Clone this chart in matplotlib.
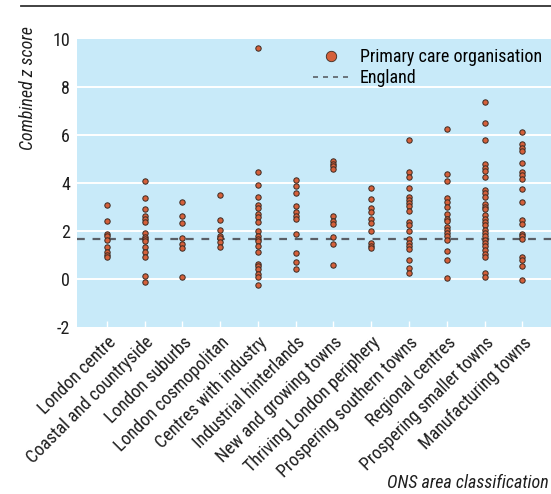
import matplotlib
matplotlib.use("Agg")
import matplotlib.pyplot as plt
from matplotlib.lines import Line2D
from matplotlib import font_manager as fm

_avail = set(f.name for f in fm.fontManager.ttflist)
_pref = ['Roboto Condensed', 'Archivo Narrow', 'PT Sans Narrow', 'Liberation Sans Narrow', 'Liberation Sans']
_font = next((p for p in _pref if p in _avail), 'DejaVu Sans')
plt.rcParams['font.family'] = [_font, 'DejaVu Sans']
plt.rcParams['axes.unicode_minus'] = False

categories = ["London centre", "Coastal and countryside", "London suburbs",
              "London cosmopolitan", "Centres with industry", "Industrial hinterlands",
              "New and growing towns", "Thriving London periphery",
              "Prospering southern towns", "Regional centres",
              "Prospering smaller towns", "Manufacturing towns"]

london_centre = [3.08, 2.42, 1.88, 1.78, 1.62, 1.33, 1.12, 1.00, 0.90]
coastal = [4.06, 3.36, 2.90, 2.61, 2.48, 2.36, 1.92, 1.74, 1.67, 1.56, 1.32, 1.11, 0.90, 0.10, -0.15]
suburbs = [3.21, 2.61, 2.33, 1.70, 1.44, 1.30, 0.07]
cosmopolitan = [3.50, 2.44, 2.05, 1.80, 1.70, 1.53, 1.32]
centres_industry = [9.65, 4.46, 3.90, 3.39, 3.07, 2.97, 2.69, 2.58, 2.37, 1.99, 1.77, 1.67,
                    1.57, 1.36, 1.11, 0.63, 0.51, 0.42, 0.21, 0.07, -0.28]
industrial = [4.11, 3.89, 3.58, 3.04, 2.79, 2.63, 2.51, 1.88, 1.07, 0.68, 0.42]
new_growing = [4.91, 4.80, 4.69, 4.57, 2.63, 2.40, 2.30, 1.74, 1.46, 0.59]
thriving = [3.79, 3.32, 2.95, 2.77, 2.48, 2.33, 1.99, 1.49, 1.38, 1.27]
prosp_southern = [5.79, 4.46, 4.23, 3.78, 3.41, 3.28, 3.16, 3.04, 2.83, 2.37, 2.23, 1.99,
                  1.64, 1.49, 1.35, 1.24, 0.77, 0.46, 0.24]
regional = [6.25, 4.36, 4.06, 3.35, 3.21, 3.00, 2.69, 2.51, 2.41, 2.16, 2.02, 1.91, 1.77,
            1.63, 1.15, 0.79, 0.04]
prosp_smaller = [7.36, 6.49, 5.79, 4.78, 4.64, 4.50, 4.23, 3.72, 3.56, 3.39, 3.11, 3.00,
                 2.89, 2.65, 2.51, 2.37, 2.23, 2.05, 1.91, 1.77, 1.63, 1.49, 1.35, 1.21,
                 1.05, 0.90, 0.23, 0.07]
manufacturing = [6.13, 5.61, 5.46, 5.33, 4.84, 4.46, 4.32, 4.18, 3.74, 3.21, 2.44, 2.30,
                 1.88, 1.77, 1.66, 0.90, 0.77, 0.51, -0.04]

series = [london_centre, coastal, suburbs, cosmopolitan, centres_industry, industrial,
          new_growing, thriving, prosp_southern, regional, prosp_smaller, manufacturing]

england = 1.65
yticks = [-2, 0, 2, 4, 6, 8, 10]

W, H = 551, 494
FS = 13
fig = plt.figure(figsize=(W / 100, H / 100), dpi=100)
ax = fig.add_axes([77 / W, 1 - 326.5 / H, 1 - 77 / W, (326.5 - 39.3) / H])

bg = '#c8eaf9'
face = '#d5603a'
edge = '#3b2a22'
txt = '#1e1e1e'
ax.set_facecolor(bg)
for s in ax.spines.values():
    s.set_visible(False)

for yv in [0, 2, 4, 6, 8]:
    ax.axhline(yv, color='white', lw=1.4, zorder=1)

ax.axhline(england, color='#5a5f66', lw=1.6, ls=(0, (3.5, 3.5)), zorder=2)

for i, vals in enumerate(series):
    ax.scatter([i] * len(vals), vals, s=15, c=face, edgecolors=edge, linewidths=0.7, zorder=3)

ax.set_xlim(-0.79, 11.76)
ax.set_ylim(-2, 10)
ax.set_yticks(yticks)
ax.set_yticklabels([str(v) for v in yticks])
ax.tick_params(axis='y', length=0, pad=5, labelsize=FS, colors=txt)
ax.set_xticks(range(len(categories)))
ax.set_xticklabels(categories, rotation=45, ha='right', rotation_mode='anchor', fontsize=FS)
ax.tick_params(axis='x', direction='in', length=4, width=1, color='white', pad=5, labelcolor=txt)

handles = [Line2D([], [], marker='o', ls='none', markersize=7.5, markerfacecolor=face,
                  markeredgecolor=edge, markeredgewidth=0.6),
           Line2D([], [], color='#5a5f66', lw=1.2, ls=(0, (3, 3)))]
ax.legend(handles, ['Primary care organisation', 'England'], loc='upper right',
          frameon=False, fontsize=FS, handlelength=2.0, handletextpad=0.6,
          borderaxespad=0.1, labelspacing=0.15, bbox_to_anchor=(1.0, 1.0))

fig.text(28 / W, 1 - 26 / H, 'Combined z score', rotation=90, style='italic',
         ha='center', va='top', fontsize=FS, color=txt)
fig.text(549 / W, 1 - 483 / H, 'ONS area classification', style='italic',
         ha='right', va='center', fontsize=FS, color=txt)

fig.add_artist(Line2D([21 / W, 1.0], [1 - 6.3 / H, 1 - 6.3 / H], transform=fig.transFigure,
                      color='#333333', lw=1.3))

fig.savefig('out.png', dpi=100)
